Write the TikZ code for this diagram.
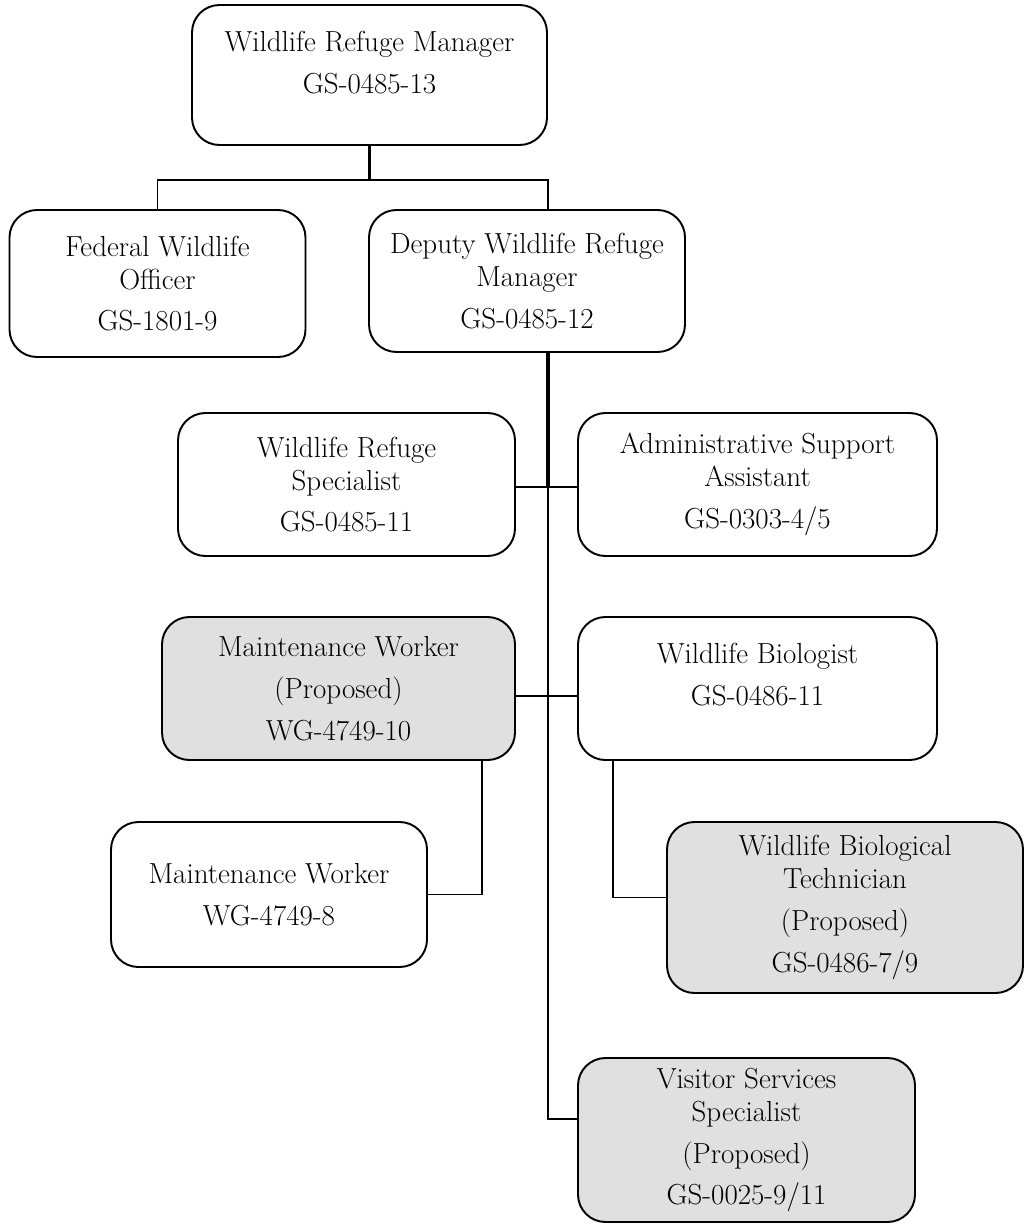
\documentclass[tikz,border=0pt]{standalone}
\usepackage{tikz}
\usetikzlibrary{positioning}
\usepackage{xcolor}
\definecolor{propgray}{RGB}{224,224,224}

\begin{document}
\begin{tikzpicture}[scale=1,
  post/.style={draw,line width=1.1pt,rounded corners=0.55cm,align=center,inner sep=0pt,
    font=\fontsize{16.5}{18.8}\selectfont},
  proposed/.style={post,fill=propgray},
  link/.style={line width=1.1pt},
  mainlink/.style={line width=2.2pt}]
\useasboundingbox (0,0) rectangle (20.52,-24.48);
%%%%%%%%%%%%%%%%
\node[post,minimum width=7.1cm,minimum height=2.8cm,text depth=14pt] (wrm) at (7.39,-1.5)
{Wildlife Refuge Manager\\[5pt] GS-0485-13};
%%%%%%%%%%%%%%%%
\node[post,minimum width=5.92cm,minimum height=2.94cm] (fwo) at (3.15,-5.67)
{Federal Wildlife\\ Officer\\[5pt] GS-1801-9};
\node[post,minimum width=6.32cm,minimum height=2.84cm] (dwrm) at (10.54,-5.62)
{Deputy Wildlife Refuge\\ Manager\\[5pt] GS-0485-12};
%%%%%%%%%%%%%%%%
\node[post,minimum width=6.74cm,minimum height=2.86cm] (wrs) at (6.93,-9.69)
{Wildlife Refuge\\ Specialist\\[5pt] GS-0485-11};
\node[post,minimum width=7.18cm,minimum height=2.86cm] (asa) at (15.15,-9.69)
{Administrative Support\\ Assistant\\[5pt] GS-0303-4/5};
%%%%%%%%%%%%%%%%
\node[proposed,minimum width=7.06cm,minimum height=2.86cm] (mwp) at (6.77,-13.77)
{Maintenance Worker\\[5pt] (Proposed)\\[5pt] WG-4749-10};
\node[post,minimum width=7.18cm,minimum height=2.86cm,text depth=16pt] (wb) at (15.15,-13.77)
{Wildlife Biologist\\[5pt] GS-0486-11};
%%%%%%%%%%%%%%%%
\node[post,minimum width=6.32cm,minimum height=2.9cm] (mw) at (5.38,-17.89)
{Maintenance Worker\\[5pt] WG-4749-8};
\node[proposed,minimum width=7.12cm,minimum height=3.42cm] (wbt) at (16.9,-18.15)
{Wildlife Biological\\ Technician\\[5pt] (Proposed)\\[5pt] GS-0486-7/9};
%%%%%%%%%%%%%%%%
\node[proposed,minimum width=6.74cm,minimum height=3.28cm] (vss) at (14.93,-22.8)
{Visitor Services\\ Specialist\\[5pt] (Proposed)\\[5pt] GS-0025-9/11};
%%%%%%%%%%%%%%%%
\coordinate (tsplit) at (7.39,-3.6);
\coordinate (dtop) at (10.96,-4.2);
\coordinate (dbot) at (10.96,-7.04);
\coordinate (j1) at (10.96,-9.74);
\coordinate (j2) at (10.96,-13.92);
\coordinate (j3) at (10.96,-22.38);
\coordinate (mwdrop) at (9.64,-15.2);
\coordinate (wbdrop) at (12.26,-15.2);
%%%%%%%%%%%%%%%%
\draw[mainlink] (wrm.south) -- (tsplit);
\draw[link] (fwo.north) |- (tsplit) -| (dtop);
\draw[mainlink] (dbot) -- (j1);
\draw[link] (j1) -- (j3) -- (j3 -| vss.west);
\draw[link] (j1 -| wrs.east) -- (j1 -| asa.west);
\draw[link] (j2 -| mwp.east) -- (j2 -| wb.west);
\draw[link] (mwdrop) |- (mw.east);
\draw[link] (wbdrop) |- ([yshift=0.2cm]wbt.west);
\end{tikzpicture}
\end{document}
